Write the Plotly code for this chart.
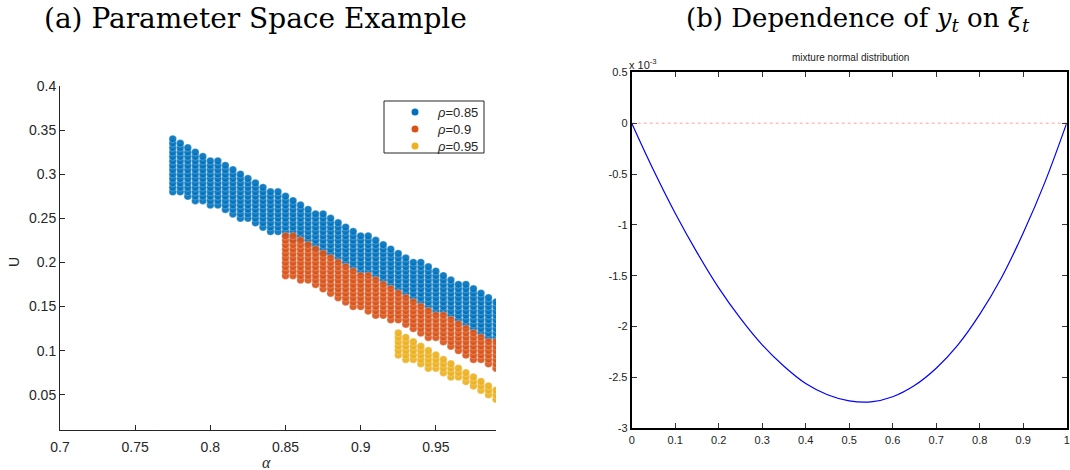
import numpy as np
import plotly.graph_objects as go

# ---------------- data ----------------
# panel (a): parameter grid, one column per alpha, U from bottom to top in steps of 0.005
U_STEP = 0.005

alpha_085 = [0.775, 0.78, 0.785, 0.79, 0.795, 0.80, 0.805, 0.81, 0.815, 0.82, 0.825, 0.83,
             0.835, 0.84, 0.845, 0.85, 0.855, 0.86, 0.865, 0.87, 0.875, 0.88, 0.885, 0.89,
             0.895, 0.90, 0.905, 0.91, 0.915, 0.92, 0.925, 0.93, 0.935, 0.94, 0.945, 0.95,
             0.955, 0.96, 0.965, 0.97, 0.975, 0.98, 0.985, 0.99]
top_085 = [0.34, 0.335, 0.33, 0.325, 0.32, 0.315, 0.315, 0.31, 0.305, 0.30, 0.295, 0.29,
           0.285, 0.28, 0.28, 0.275, 0.27, 0.265, 0.26, 0.255, 0.255, 0.25, 0.245, 0.24,
           0.235, 0.23, 0.23, 0.225, 0.22, 0.215, 0.21, 0.205, 0.20, 0.20, 0.195, 0.19,
           0.185, 0.18, 0.175, 0.175, 0.17, 0.165, 0.16, 0.155]
bot_085 = [0.28, 0.28, 0.275, 0.27, 0.27, 0.265, 0.265, 0.26, 0.255, 0.25, 0.25, 0.245,
           0.24, 0.235, 0.235, 0.23, 0.225, 0.225, 0.22, 0.215, 0.21, 0.21, 0.205, 0.20,
           0.195, 0.19, 0.19, 0.185, 0.18, 0.175, 0.17, 0.165, 0.16, 0.155, 0.15, 0.145,
           0.145, 0.14, 0.135, 0.13, 0.125, 0.12, 0.115, 0.115]

alpha_09 = [0.85, 0.855, 0.86, 0.865, 0.87, 0.875, 0.88, 0.885, 0.89, 0.895, 0.90, 0.905,
            0.91, 0.915, 0.92, 0.925, 0.93, 0.935, 0.94, 0.945, 0.95, 0.955, 0.96, 0.965,
            0.97, 0.975, 0.98, 0.985, 0.99]
top_09 = [0.23, 0.23, 0.225, 0.22, 0.215, 0.21, 0.205, 0.20, 0.195, 0.19, 0.185, 0.185,
          0.18, 0.175, 0.17, 0.165, 0.16, 0.155, 0.15, 0.145, 0.14, 0.14, 0.135, 0.13,
          0.125, 0.12, 0.115, 0.11, 0.11]
bot_09 = [0.185, 0.185, 0.18, 0.18, 0.175, 0.17, 0.165, 0.16, 0.155, 0.15, 0.15, 0.145,
          0.14, 0.14, 0.135, 0.135, 0.13, 0.125, 0.12, 0.115, 0.115, 0.11, 0.105, 0.10,
          0.095, 0.09, 0.09, 0.085, 0.08]

alpha_095 = [0.925, 0.93, 0.935, 0.94, 0.945, 0.95, 0.955, 0.96, 0.965, 0.97, 0.975, 0.98,
             0.985, 0.99]
top_095 = [0.12, 0.115, 0.11, 0.105, 0.10, 0.095, 0.09, 0.085, 0.08, 0.075, 0.07, 0.065,
           0.06, 0.055]
bot_095 = [0.095, 0.09, 0.09, 0.085, 0.08, 0.08, 0.075, 0.07, 0.07, 0.065, 0.06, 0.055,
           0.05, 0.045]

series_names = ["<i>ρ</i>=0.85", "<i>ρ</i>=0.9", "<i>ρ</i>=0.95"]
series_colors = ["#0072BD", "#D95319", "#EDB120"]

a_xticks = [0.7, 0.75, 0.8, 0.85, 0.9, 0.95]
a_xtext = ["0.7", "0.75", "0.8", "0.85", "0.9", "0.95"]
a_yticks = [0.05, 0.1, 0.15, 0.2, 0.25, 0.3, 0.35, 0.4]
a_ytext = ["0.05", "0.1", "0.15", "0.2", "0.25", "0.3", "0.35", "0.4"]

# panel (b): curve values (in units of 1e-3) read at xi = 0, 0.05, ..., 1
xi = [0.0, 0.05, 0.1, 0.15, 0.2, 0.25, 0.3, 0.35, 0.4, 0.45, 0.5, 0.55, 0.6, 0.65, 0.7,
      0.75, 0.8, 0.85, 0.9, 0.95, 1.0]
y_e3 = [0.0, -0.46, -0.885, -1.27, -1.62, -1.92, -2.18, -2.39, -2.56, -2.67, -2.73, -2.74,
        -2.69, -2.58, -2.41, -2.18, -1.88, -1.52, -1.08, -0.58, 0.0]
b_xticks = [0, 0.1, 0.2, 0.3, 0.4, 0.5, 0.6, 0.7, 0.8, 0.9, 1]
b_xtext = ["0", "0.1", "0.2", "0.3", "0.4", "0.5", "0.6", "0.7", "0.8", "0.9", "1"]
b_yticks = [0.5, 0, -0.5, -1, -1.5, -2, -2.5, -3]
b_ytext = ["0.5", "0", "-0.5", "-1", "-1.5", "-2", "-2.5", "-3"]


def expand(alphas, tops, bots):
    xs, ys = [], []
    for a, t, b in zip(alphas, tops, bots):
        n = int(round((t - b) / U_STEP)) + 1
        for k in range(n):
            xs.append(a)
            ys.append(round(b + k * U_STEP, 4))
    return xs, ys


W, H = 1070, 470


def fx(p):
    return p / W


def fy(p):
    return (H - p) / H


fig = go.Figure()

for (al, tp, bt), name, col in zip(
        [(alpha_085, top_085, bot_085), (alpha_09, top_09, bot_09), (alpha_095, top_095, bot_095)],
        series_names, series_colors):
    xs, ys = expand(al, tp, bt)
    fig.add_trace(go.Scatter(
        x=xs, y=ys, mode="markers", name=name,
        marker=dict(size=7.5, color=col, opacity=0.92,
                    line=dict(width=0.6, color="rgba(255,255,255,0.45)")),
        xaxis="x", yaxis="y", showlegend=False))

# panel (b)
fig.add_trace(go.Scatter(x=[0, 1], y=[0, 0], mode="lines",
                         line=dict(color="#ffa0a0", width=1, dash="dot"),
                         xaxis="x2", yaxis="y2", showlegend=False))
fig.add_trace(go.Scatter(x=xi, y=y_e3, mode="lines", line_shape="spline",
                         line=dict(color="#0000ff", width=1.2),
                         xaxis="x2", yaxis="y2", showlegend=False))

axcol = "#262626"
sans = "Liberation Sans, Arial, sans-serif"
narrow = "Liberation Sans Narrow, Liberation Sans, Arial"
fig.update_layout(
    template="none",
    width=W, height=H, margin=dict(l=0, r=0, t=0, b=0, autoexpand=False),
    paper_bgcolor="white", plot_bgcolor="white",
    font=dict(family=sans, color=axcol),
    showlegend=False,
    xaxis=dict(domain=[fx(60), fx(496)], range=[0.7, 0.99], tickvals=a_xticks,
               ticktext=a_xtext, automargin=False, ticklabelstandoff=4,
               showline=True, linecolor=axcol, linewidth=1, ticks="inside", ticklen=5,
               tickcolor=axcol, showgrid=False, zeroline=False,
               tickfont=dict(size=14, color=axcol, family=sans), anchor="y"),
    yaxis=dict(domain=[fy(430), fy(86)], range=[0.01, 0.4], tickvals=a_yticks,
               ticktext=a_ytext, automargin=False,
               showline=True, linecolor=axcol, linewidth=1, ticks="inside", ticklen=5,
               tickcolor=axcol, showgrid=False, zeroline=False,
               tickfont=dict(size=14, color=axcol, family=sans), anchor="x"),
    xaxis2=dict(domain=[fx(631.7), fx(1066.7)], range=[0, 1], tickvals=b_xticks,
                ticktext=b_xtext, automargin=False,
                showline=True, linecolor="black", linewidth=2, mirror="ticks",
                ticks="inside", ticklen=5, tickcolor="#333", tickwidth=1,
                showgrid=False, zeroline=False,
                tickfont=dict(size=11, color="#222", family=narrow), anchor="y2"),
    yaxis2=dict(domain=[fy(428.3), fy(72.3)], range=[-3, 0.5], tickvals=b_yticks,
                ticktext=b_ytext, automargin=False,
                showline=True, linecolor="black", linewidth=2, mirror="ticks",
                ticks="inside", ticklen=5, tickcolor="#333", tickwidth=1,
                showgrid=False, zeroline=False,
                tickfont=dict(size=11, color="#222", family=narrow), anchor="x2"),
)

# legend of panel (a): box, marker dots and labels
fig.add_shape(type="rect", xref="paper", yref="paper",
              x0=fx(384), x1=fx(484), y0=fy(153), y1=fy(101),
              line=dict(color=axcol, width=1), fillcolor="white", layer="above")
for i, (name, col) in enumerate(zip(series_names, series_colors)):
    ypix = 112 + 17 * i
    fig.add_shape(type="circle", xref="paper", yref="paper",
                  xsizemode="pixel", ysizemode="pixel",
                  xanchor=fx(415), yanchor=fy(ypix), x0=-3.5, x1=3.5, y0=-3.5, y1=3.5,
                  fillcolor=col, line=dict(width=0), layer="above")
    fig.add_annotation(x=fx(435), y=fy(ypix), xref="paper", yref="paper",
                       xanchor="left", yanchor="middle", text=name, showarrow=False,
                       font=dict(size=13, color=axcol, family=sans))

serif = "DejaVu Serif, Liberation Serif, serif"
fig.add_annotation(x=fx(255), y=fy(18), xref="paper", yref="paper",
                   xanchor="center", yanchor="middle",
                   text="(a) Parameter Space Example", showarrow=False,
                   font=dict(family=serif, size=28, color="black"))
fig.add_annotation(x=fx(858), y=fy(20), xref="paper", yref="paper",
                   xanchor="center", yanchor="middle",
                   text="(b) Dependence of <i>y</i><sub><i>t</i></sub> on <i>ξ</i><sub><i>t</i></sub>",
                   showarrow=False, font=dict(family=serif, size=26, color="black"))
fig.add_annotation(x=fx(266), y=fy(462), xref="paper", yref="paper",
                   xanchor="center", yanchor="middle",
                   text="<i>α</i>", showarrow=False,
                   font=dict(family="Liberation Serif, serif", size=16, color=axcol))
fig.add_annotation(x=fx(14), y=fy(262), xref="paper", yref="paper",
                   xanchor="center", yanchor="middle",
                   text="U", showarrow=False, textangle=-90,
                   font=dict(size=14, color=axcol, family=sans))
fig.add_annotation(x=fx(850), y=fy(57), xref="paper", yref="paper",
                   xanchor="center", yanchor="middle",
                   text="mixture normal distribution", showarrow=False,
                   font=dict(size=10, color="#222", family=narrow))
fig.add_annotation(x=fx(627), y=fy(73), xref="paper", yref="paper",
                   xanchor="left", yanchor="bottom", text="x 10<sup>-3</sup>", showarrow=False,
                   font=dict(size=11, color="#222", family=narrow))

fig.write_html("out.html", config={"displayModeBar": False},
               post_script="document.body.style.margin='0';")
